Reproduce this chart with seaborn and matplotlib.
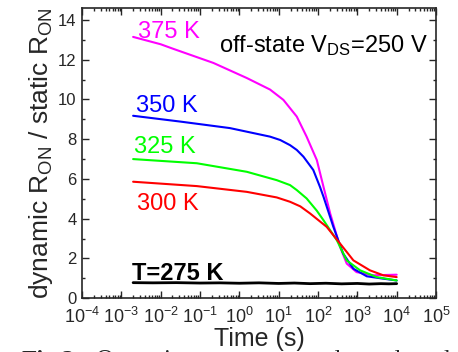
import numpy as np
import pandas as pd
import seaborn as sns
import matplotlib.pyplot as plt
from matplotlib.ticker import LogLocator, MultipleLocator, NullFormatter

# curves: log10(time) and R_dyn/R_static
exp_375 = [-2.7, -2.0, -1.68, -0.66, 0.19, 0.78, 1.12, 1.46, 1.71, 1.97, 2.14, 2.31, 2.56, 2.73, 2.98, 3.41, 4.0]
r_375 = [13.15, 12.78, 12.55, 11.84, 11.08, 10.5, 9.98, 9.14, 8.13, 6.95, 5.6, 4.26, 2.58, 1.74, 1.31, 1.15, 1.18]

exp_350 = [-2.7, -1.51, -0.24, 0.78, 1.04, 1.29, 1.46, 1.63, 1.88, 2.05, 2.14, 2.39, 2.64, 2.9, 3.24, 3.66, 4.0]
r_350 = [9.18, 8.89, 8.56, 8.13, 7.96, 7.7, 7.46, 7.12, 6.45, 5.6, 5.1, 3.59, 2.24, 1.48, 1.1, 0.98, 0.89]

exp_325 = [-2.7, -1.08, 0.19, 0.95, 1.29, 1.46, 1.71, 1.97, 2.14, 2.48, 2.73, 3.07, 3.49, 4.0]
r_325 = [7.0, 6.79, 6.36, 5.94, 5.69, 5.44, 5.02, 4.4, 3.92, 2.91, 1.9, 1.4, 1.06, 0.89]

exp_300 = [-2.7, -1.08, 0.19, 0.95, 1.29, 1.55, 1.8, 2.22, 2.56, 2.9, 3.32, 3.66, 4.0]
r_300 = [5.86, 5.64, 5.35, 5.07, 4.85, 4.62, 4.26, 3.59, 2.75, 1.9, 1.4, 1.15, 1.06]

exp_275 = [-2.7, -2.2, -1.6, -1.0, -0.5, 0.0, 0.5, 1.0, 1.4, 1.8, 2.2, 2.6, 3.0, 3.3, 3.6, 3.8, 4.0]
r_275 = [0.78, 0.77, 0.78, 0.76, 0.77, 0.75, 0.77, 0.74, 0.76, 0.73, 0.75, 0.72, 0.74, 0.71, 0.73, 0.72, 0.73]

temps = ["375 K", "350 K", "325 K", "300 K", "275 K"]
colors = ["#ff00ff", "#0000ff", "#00ff00", "#ff0000", "#000000"]
exps = [exp_375, exp_350, exp_325, exp_300, exp_275]
ratios = [r_375, r_350, r_325, r_300, r_275]

df = pd.concat([pd.DataFrame({"time": 10.0 ** np.array(e), "ratio": r, "T": t})
                for e, r, t in zip(exps, ratios, temps)])

sns.set_style("ticks")
plt.rcParams["font.family"] = ["Liberation Sans", "DejaVu Sans"]
plt.rcParams["mathtext.fontset"] = "custom"
plt.rcParams["mathtext.rm"] = "Liberation Sans"
plt.rcParams["mathtext.it"] = "Liberation Sans:italic"

fig, ax = plt.subplots(figsize=(4.58, 3.52), dpi=100)
fig.subplots_adjust(left=0.179, right=0.952, top=0.977, bottom=0.153)

sns.lineplot(data=df, x="time", y="ratio", hue="T", palette=dict(zip(temps, colors)),
             linewidth=1.5, legend=False, ax=ax, sort=False)
ax.lines[-1].set_linewidth(2.0)

ax.set_xscale("log")
ax.set_xlim(1e-4, 1e5)
ax.set_ylim(0, 14.6)
ax.xaxis.set_major_locator(LogLocator(base=10, numticks=20))
ax.xaxis.set_minor_locator(LogLocator(base=10, subs=np.arange(2, 10), numticks=20))
ax.xaxis.set_minor_formatter(NullFormatter())
ax.yaxis.set_major_locator(MultipleLocator(2))
ax.yaxis.set_minor_locator(MultipleLocator(1))
ax.tick_params(which="both", direction="in", top=True, right=True, width=1)
ax.tick_params(which="major", length=5)
ax.tick_params(which="minor", length=2.5)
ax.tick_params(axis="x", which="major", pad=6, labelsize=13)
ax.tick_params(axis="y", which="major", pad=4, labelsize=12)
for s in ax.spines.values():
    s.set_linewidth(1.2)

ax.set_xlabel("Time (s)", fontsize=18, labelpad=0)
ax.set_ylabel(r"dynamic R$_{\mathrm{ON}}$ / static R$_{\mathrm{ON}}$", fontsize=19, labelpad=2)

lab_kw = dict(fontsize=17, va="center", ha="left")
ax.text(2.6e-3, 13.4, "375 K", color="#ff00ff", **lab_kw)
ax.text(2.3e-3, 9.68, "350 K", color="#0000ff", **lab_kw)
ax.text(2.1e-3, 7.6, "325 K", color="#00ff00", **lab_kw)
ax.text(2.5e-3, 4.73, "300 K", color="#ff0000", **lab_kw)
ax.text(1.9e-3, 1.25, "T=275 K", color="black", fontweight="bold", **lab_kw)
ax.text(6.2e4, 12.7, r"off-state V$_{\mathrm{DS}}$=250 V", color="black",
        fontsize=17, va="center", ha="right")

fig.text(0.048, 0.006, "Fig.2:", fontsize=18, fontweight="bold",
         family="Liberation Serif", va="top", ha="left")
fig.text(0.21, 0.006, "Operating temperature dependent dyn", fontsize=18,
         family="Liberation Serif", va="top", ha="left")

fig.savefig("out.png", dpi=100)
